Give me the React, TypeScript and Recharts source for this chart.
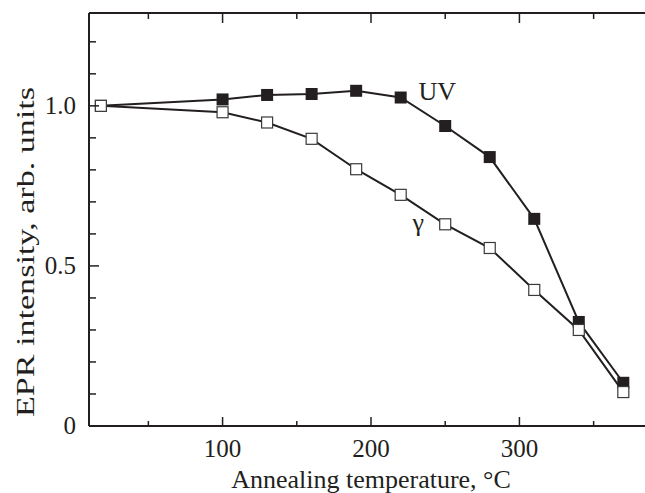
import React from "react";
import {
  LineChart,
  Line,
  XAxis,
  YAxis,
  ReferenceDot,
} from "recharts";

// Temperature (°C) and normalised EPR intensity
const temperatures = [18, 100, 130, 160, 190, 220, 250, 280, 310, 340, 370];
const uvValues = [1.0, 1.02, 1.034, 1.037, 1.047, 1.026, 0.937, 0.84, 0.647, 0.325, 0.135];
const gammaValues = [1.0, 0.98, 0.948, 0.897, 0.802, 0.722, 0.63, 0.556, 0.425, 0.3, 0.106];

const xTicks = [50, 100, 150, 200, 250, 300, 350];
const xLabelTicks = [100, 200, 300];
const yTicks = [0, 0.1, 0.2, 0.3, 0.4, 0.5, 0.6, 0.7, 0.8, 0.9, 1.0, 1.1, 1.2];
const yLabelTicks: Record<string, string> = { "0": "0", "0.5": "0.5", "1": "1.0" };

const ink = "#231f20";
const font = "'Liberation Serif', 'DejaVu Serif', serif";

const chartData = temperatures.map((t, i) => ({
  t,
  uv: uvValues[i],
  gamma: gammaValues[i],
}));

const isMajorX = (v: number) => v % 100 === 0;
const isMajorY = (v: number) => Math.abs(v * 2 - Math.round(v * 2)) < 1e-6;

const BottomTick = (props: any) => {
  const { x, y, payload } = props;
  const v = payload.value;
  const len = isMajorX(v) ? 9 : 5;
  return (
    <g>
      <line x1={x} y1={y} x2={x} y2={y - len} stroke={ink} strokeWidth={1.5} />
      {xLabelTicks.includes(v) && (
        <text x={x} y={y + 31} textAnchor="middle" fontSize={25} fontFamily={font} fill={ink}>
          {v}
        </text>
      )}
    </g>
  );
};

const TopTick = (props: any) => {
  const { x, y, payload } = props;
  const len = isMajorX(payload.value) ? 10 : 6;
  return <line x1={x} y1={y} x2={x} y2={y + len} stroke={ink} strokeWidth={1.5} />;
};

const LeftTick = (props: any) => {
  const { x, y, payload } = props;
  const v = payload.value;
  const major = isMajorY(v);
  const key = String(Math.round(v * 10) / 10);
  return (
    <g>
      <line x1={x} y1={y} x2={x + (major ? 10 : 7)} y2={y} stroke={ink} strokeWidth={1.5} />
      {yLabelTicks[key] && (
        <text x={x - 13} y={y + 8} textAnchor="end" fontSize={25} fontFamily={font} fill={ink}>
          {yLabelTicks[key]}
        </text>
      )}
    </g>
  );
};

const RightTick = (props: any) => {
  const { x, y, payload } = props;
  const len = isMajorY(payload.value) ? 10 : 6;
  return <line x1={x} y1={y} x2={x - len} y2={y} stroke={ink} strokeWidth={1.5} />;
};

const FilledSquare = (props: any) => {
  const { cx, cy, index } = props;
  return <rect key={`f${index}`} x={cx - 6} y={cy - 6} width={12} height={12} fill={ink} />;
};

const OpenSquare = (props: any) => {
  const { cx, cy, index } = props;
  return (
    <rect
      key={`o${index}`}
      x={cx - 5.5}
      y={cy - 5.5}
      width={11}
      height={11}
      fill="#fff"
      stroke="#3a3a3a"
      strokeWidth={1.2}
    />
  );
};

const seriesLabel = (text: string) => (props: any) => {
  const { viewBox } = props;
  return (
    <text x={viewBox.x} y={viewBox.y} fontSize={26} fontFamily={font} fill={ink}>
      {text}
    </text>
  );
};

const App: React.FC = () => {
  return (
    <div
      style={{
        position: "fixed",
        left: 0,
        top: 0,
        width: 645,
        height: 493,
        overflow: "hidden",
        background: "#fff",
      }}
    >
      <LineChart
        width={660}
        height={493}
        data={chartData}
        margin={{ top: 12, right: 6, left: 88, bottom: 66 }}
      >
        <XAxis
          xAxisId="b"
          dataKey="t"
          type="number"
          domain={[10, 390]}
          ticks={xTicks}
          interval={0}
          height={1}
          tickSize={0}
          tickMargin={0}
          tickLine={false}
          axisLine={{ stroke: ink, strokeWidth: 2 }}
          tick={BottomTick}
          label={{
            content: (p: any) => (
              <text
                x={p.viewBox.x + p.viewBox.width / 2}
                y={p.viewBox.y + 62}
                textAnchor="middle"
                fontSize={26}
                fontFamily={font}
                fill={ink}
              >
                Annealing temperature, °C
              </text>
            ),
          }}
        />
        <XAxis
          xAxisId="t"
          orientation="top"
          dataKey="t"
          type="number"
          domain={[10, 390]}
          ticks={xTicks}
          interval={0}
          height={1}
          tickSize={0}
          tickMargin={0}
          tickLine={false}
          axisLine={{ stroke: ink, strokeWidth: 2 }}
          tick={TopTick}
        />
        <YAxis
          yAxisId="l"
          type="number"
          domain={[0, 1.29]}
          ticks={yTicks}
          interval={0}
          width={1}
          tickSize={0}
          tickMargin={0}
          tickLine={false}
          axisLine={{ stroke: ink, strokeWidth: 2 }}
          tick={LeftTick}
          label={{
            content: (p: any) => {
              const cx = 34;
              const cy = 252;
              return (
                <text
                  x={cx}
                  y={cy}
                  transform={`rotate(-90 ${cx} ${cy})`}
                  textAnchor="middle"
                  fontSize={26}
                  fontFamily={font}
                  fill={ink}
                  textLength={330}
                  lengthAdjust="spacingAndGlyphs"
                >
                  EPR intensity, arb. units
                </text>
              );
            },
          }}
        />
        <YAxis
          yAxisId="r"
          orientation="right"
          type="number"
          domain={[0, 1.29]}
          ticks={yTicks}
          interval={0}
          width={1}
          tickSize={0}
          tickMargin={0}
          tickLine={false}
          axisLine={{ stroke: ink, strokeWidth: 2 }}
          tick={RightTick}
        />
        <Line
          xAxisId="b"
          yAxisId="l"
          type="linear"
          dataKey="uv"
          stroke={ink}
          strokeWidth={2}
          dot={FilledSquare}
          activeDot={false}
          isAnimationActive={false}
        />
        <Line
          xAxisId="b"
          yAxisId="l"
          type="linear"
          dataKey="gamma"
          stroke={ink}
          strokeWidth={2}
          dot={OpenSquare}
          activeDot={false}
          isAnimationActive={false}
        />
        <ReferenceDot
          xAxisId="b"
          yAxisId="l"
          x={232}
          y={1.019}
          r={0}
          fill="none"
          stroke="none"
          label={{ content: seriesLabel("UV") }}
        />
        <ReferenceDot
          xAxisId="b"
          yAxisId="l"
          x={228}
          y={0.609}
          r={0}
          fill="none"
          stroke="none"
          label={{ content: seriesLabel("γ") }}
        />
      </LineChart>
    </div>
  );
};

export default App;
